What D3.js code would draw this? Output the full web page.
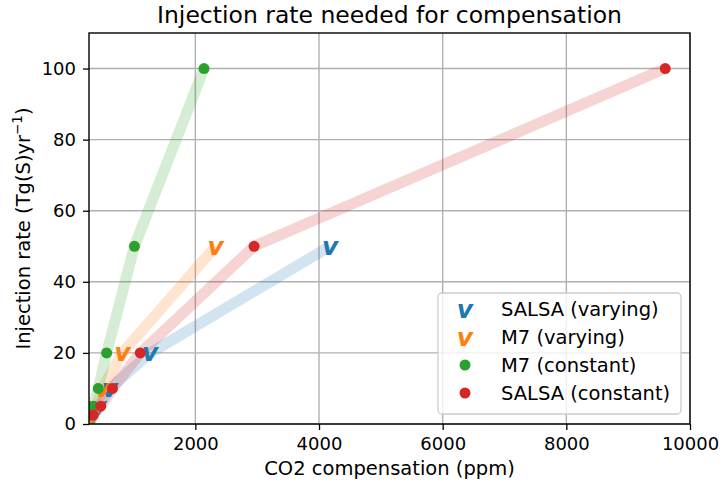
<!DOCTYPE html>
<html>
<head>
<meta charset="utf-8">
<script src="https://cdn.jsdelivr.net/npm/d3@7"></script>
<style>
  body { margin: 0; background: #fff; }
  svg { font-family: "DejaVu Sans", sans-serif; }
</style>
</head>
<body>
<svg id="chart" width="723" height="489"></svg>
<script>
// Injection rates (Tg(S)/yr) and the CO2 level (ppm) each rate compensates
const baseCO2 = 280;
const ratesConstant = [2.5, 5, 10, 20, 50, 100];
const ratesVarying = [2.5, 5, 10, 20, 50];

const m7Constant = [320, 345, 430, 565, 1015, 2140];
const salsaConstant = [350, 470, 660, 1110, 2950, 9600];
const m7Varying = [315, 390, 500, 820, 2330];
const salsaVarying = [330, 430, 620, 1270, 4180];

const xTicks = [2000, 4000, 6000, 8000, 10000];
const yTicks = [0, 20, 40, 60, 80, 100];

const series = [
  { name: "SALSA (varying)", co2: salsaVarying, rates: ratesVarying, color: "#1f77b4", marker: "v" },
  { name: "M7 (varying)", co2: m7Varying, rates: ratesVarying, color: "#ff7f0e", marker: "v" },
  { name: "M7 (constant)", co2: m7Constant, rates: ratesConstant, color: "#2ca02c", marker: "o" },
  { name: "SALSA (constant)", co2: salsaConstant, rates: ratesConstant, color: "#d62728", marker: "o" }
];

const svg = d3.select("#chart");
const m = { left: 89, right: 690, top: 33, bottom: 424 };
const x = d3.scaleLinear().domain([baseCO2, 10000]).range([m.left, m.right]);
const y = d3.scaleLinear().domain([0, 110]).range([m.bottom, m.top]);

// grid
const grid = svg.append("g");
grid.selectAll(".gx").data(xTicks).enter().append("line")
  .attr("x1", d => x(d)).attr("x2", d => x(d))
  .attr("y1", m.top).attr("y2", m.bottom)
  .attr("stroke", "#b0b0b0").attr("stroke-width", 1.4);
grid.selectAll(".gy").data(yTicks).enter().append("line")
  .attr("x1", m.left).attr("x2", m.right)
  .attr("y1", d => y(d)).attr("y2", d => y(d))
  .attr("stroke", "#b0b0b0").attr("stroke-width", 1.4);

const plot = svg.append("g");
svg.append("clipPath").attr("id", "clip").append("rect")
  .attr("x", m.left).attr("y", m.top).attr("width", m.right - m.left).attr("height", m.bottom - m.top);
plot.attr("clip-path", "url(#clip)");

// thick translucent guide lines starting at the baseline
const line = d3.line().x(d => x(d[0])).y(d => y(d[1]));
series.forEach(s => {
  const pts = [[baseCO2, 0]].concat(s.co2.map((c, i) => [c, s.rates[i]]));
  plot.append("path").datum(pts)
    .attr("d", line)
    .attr("fill", "none")
    .attr("stroke", s.color)
    .attr("stroke-opacity", 0.2)
    .attr("stroke-width", 11)
    .attr("stroke-linejoin", "round");
});

// markers
function vMarker(sel, color) {
  sel.attr("text-anchor", "middle").attr("dominant-baseline", "central")
    .attr("font-size", 25).attr("font-weight", "bold").attr("font-style", "italic")
    .attr("fill", color).text("v");
}
series.forEach(s => {
  const pts = s.co2.map((c, i) => [c, s.rates[i]]);
  if (s.marker === "o") {
    plot.selectAll(null).data(pts).enter().append("circle")
      .attr("cx", d => x(d[0])).attr("cy", d => y(d[1]))
      .attr("r", 5.5).attr("fill", s.color);
  } else {
    plot.selectAll(null).data(pts).enter().append("text")
      .attr("x", d => x(d[0])).attr("y", d => y(d[1]))
      .call(vMarker, s.color);
  }
});

// axes
const xAxis = svg.append("g").attr("transform", `translate(0,${m.bottom})`)
  .call(d3.axisBottom(x).tickValues(xTicks).tickSize(6).tickPadding(7).tickFormat(d3.format("d")));
const yAxis = svg.append("g").attr("transform", `translate(${m.left},0)`)
  .call(d3.axisLeft(y).tickValues(yTicks).tickSize(6).tickPadding(7));
[xAxis, yAxis].forEach(a => {
  a.select(".domain").remove();
  a.selectAll("text").attr("font-size", 18).attr("font-family", "DejaVu Sans").attr("fill", "#000");
  a.selectAll("line").attr("stroke", "#000").attr("stroke-width", 1.3);
});
svg.append("rect")
  .attr("x", m.left).attr("y", m.top).attr("width", m.right - m.left).attr("height", m.bottom - m.top)
  .attr("fill", "none").attr("stroke", "#000").attr("stroke-width", 1.4);

// titles
svg.append("text").attr("x", (m.left + m.right) / 2).attr("y", 23)
  .attr("text-anchor", "middle").attr("font-size", 23.5).text("Injection rate needed for compensation");
svg.append("text").attr("x", (m.left + m.right) / 2).attr("y", 475)
  .attr("text-anchor", "middle").attr("font-size", 19.5).text("CO2 compensation (ppm)");
const yl = svg.append("text").attr("transform", `translate(30,${(m.top + m.bottom) / 2}) rotate(-90)`)
  .attr("text-anchor", "middle").attr("font-size", 19.5);
yl.append("tspan").text("Injection rate (Tg(S)yr");
yl.append("tspan").attr("font-size", 13.5).attr("dy", -8).text("\u22121");
yl.append("tspan").attr("dy", 8).text(")");

// legend
const lg = svg.append("g").attr("transform", "translate(438,293)");
lg.append("rect").attr("width", 243).attr("height", 121).attr("rx", 4)
  .attr("fill", "#fff").attr("fill-opacity", 0.8).attr("stroke", "#cccccc").attr("stroke-width", 1.3);
series.forEach((s, i) => {
  const row = lg.append("g").attr("transform", `translate(0,${16 + i * 28})`);
  if (s.marker === "o") {
    row.append("circle").attr("cx", 27).attr("cy", 0).attr("r", 5.5).attr("fill", s.color);
  } else {
    row.append("text").attr("x", 27).attr("y", 0).call(vMarker, s.color);
  }
  row.append("text").attr("x", 63).attr("y", 0).attr("dominant-baseline", "central")
    .attr("font-size", 19.5).text(s.name);
});
</script>
</body>
</html>
